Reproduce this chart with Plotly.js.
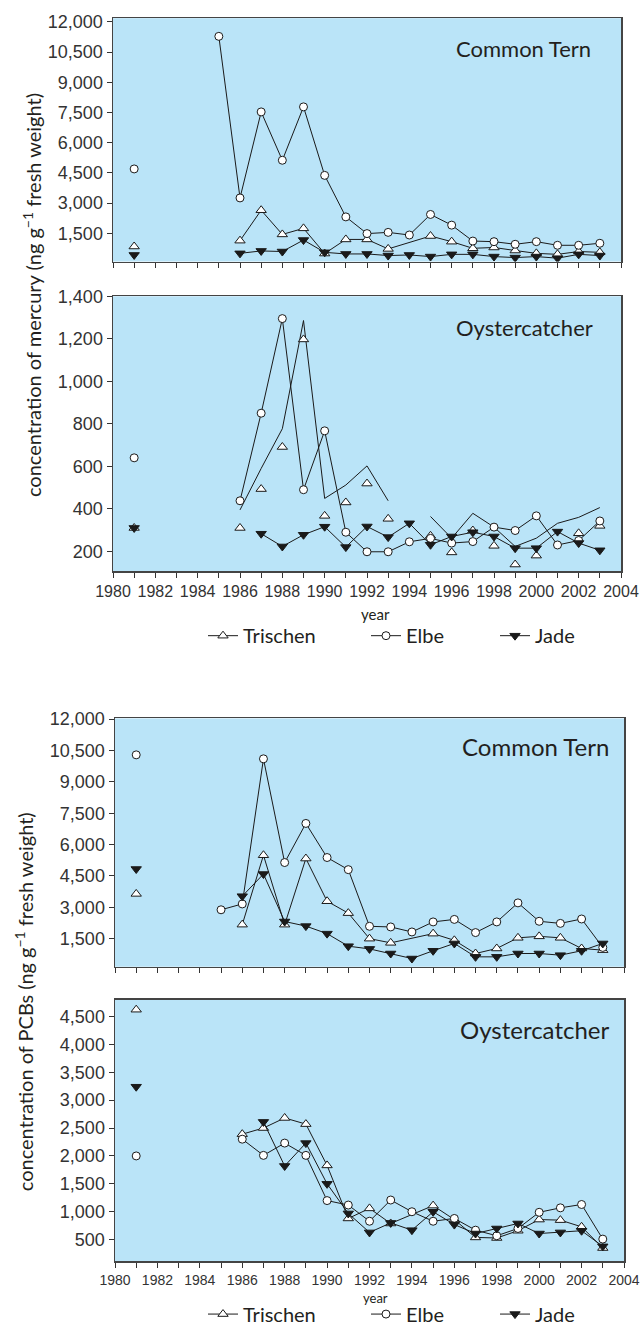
<!DOCTYPE html>
<html>
<head>
<meta charset="utf-8">
<script src="https://cdn.plot.ly/plotly-3.0.1.min.js"></script>
<style>html,body{margin:0;padding:0;background:#fff;}#chart{width:643px;height:1334px;}</style>
</head>
<body>
<div id="chart"></div>
<script>
// ---------- data ----------
const YEARS = [1981, 1985, 1986, 1987, 1988, 1989, 1990, 1991, 1992, 1993, 1994, 1995, 1996, 1997, 1998, 1999, 2000, 2001, 2002, 2003];

// mercury, Common Tern
const hgTernTrischen = [850, null, 1140, 2650, 1450, 1750, 500, 1200, 1200, 730, null, 1370, 1090, 760, 800, 650, 510, 460, 600, 560];
const hgTernElbe     = [4700, 11280, 3260, 7530, 5130, 7780, 4380, 2320, 1490, 1550, 1420, 2440, 1910, 1120, 1090, 960, 1090, 910, 910, 1010];
const hgTernJade     = [430, null, 510, 630, 600, 1170, 560, 480, 480, 400, 430, 350, 460, 460, 350, 300, 350, 270, 460, 400];

// mercury, Oystercatcher
const hgOysTrischen     = [310, null, 310, 493, 691, 1197, 367, 430, 519, 353, null, 273, 195, 298, 226, 138, 180, null, 285, 320];
const hgOysTrischenLine = [null, null, 395, 590, 777, 1286, 449, 512, 602, 438, null, 364, 262, 379, 314, 223, 262, 332, 360, 406];
const hgOysElbe         = [640, null, 438, 850, 1295, 490, 767, 290, 198, 198, 245, 261, 239, 246, 314, 298, 367, 230, 251, 343];
const hgOysJade         = [310, null, null, 283, 223, 278, 316, 220, 317, 267, 332, 231, 270, 290, 270, 215, 215, 293, 239, 205];

// PCBs, Common Tern
const pcbTernTrischen = [3640, null, 2170, 5490, 2170, 5330, 3290, 2720, 1500, 1300, null, 1740, 1420, 790, 1030, 1540, 1610, 1540, 1030, 950];
const pcbTernElbe     = [10290, 2880, 3160, 10100, 5140, 7010, 5380, 4800, 2090, 2060, 1820, 2300, 2420, 1790, 2300, 3210, 2330, 2230, 2440, 1080];
const pcbTernJade     = [4830, null, 3530, 4590, 2320, 2100, 1740, 1140, 1010, 790, 550, 920, 1270, 630, 630, 790, 790, 710, 920, 1270];

// PCBs, Oystercatcher
const pcbOysTrischen = [4620, null, 2390, 2500, 2680, 2570, 1830, 880, 1060, 790, null, 1110, 860, 540, 530, 660, 860, 850, 730, 350];
const pcbOysElbe     = [2000, null, 2300, 2010, 2230, 2010, 1200, 1120, 830, 1210, 1000, 830, 880, 670, 570, 700, 990, 1070, 1130, 510];
const pcbOysJade     = [3240, null, null, 2610, 1820, 2230, 1500, 970, 630, 800, 670, 1000, 770, 610, 700, 790, 610, 630, 660, 380];

const SERIES = ['Trischen', 'Elbe', 'Jade'];
const TICKS_TERN = [1500, 3000, 4500, 6000, 7500, 9000, 10500, 12000];
const TICKS_HG_OYS = [200, 400, 600, 800, 1000, 1200, 1400];
const TICKS_PCB_OYS = [500, 1000, 1500, 2000, 2500, 3000, 3500, 4000, 4500];

// ---------- styles ----------
const INK = '#1a1a1a';
const MARK = {
  Trischen: {symbol: 'triangle-up', size: 9, color: '#ffffff', line: {color: INK, width: 1}},
  Elbe:     {symbol: 'circle', size: 8, color: '#ffffff', line: {color: INK, width: 1}},
  Jade:     {symbol: 'triangle-down', size: 9, color: INK, line: {color: INK, width: 1}}
};
const LINE = {color: INK, width: 1};

// one legend box per entry so each can sit where the reference puts it
const TOP_LEGENDS = {Trischen: 'legend', Elbe: 'legend3', Jade: 'legend4'};
const BOT_LEGENDS = {Trischen: 'legend2', Elbe: 'legend5', Jade: 'legend6'};

const traces = [];
function addSeries(vals, name, xa, ya, legendId, opts) {
  opts = opts || {};
  if (vals[0] !== null) {
    traces.push({x: [YEARS[0]], y: [vals[0]], xaxis: xa, yaxis: ya, mode: 'markers',
      marker: MARK[name], showlegend: false, hoverinfo: 'skip'});
  }
  const xs = YEARS.slice(1), ys = vals.slice(1);
  traces.push({x: xs, y: ys, xaxis: xa, yaxis: ya, name: name,
    mode: opts.markersOnly ? 'markers' : 'lines+markers', connectgaps: true,
    line: LINE, marker: MARK[name],
    showlegend: !!legendId, legend: legendId || 'legend'});
}

// panel 1
addSeries(hgTernTrischen, 'Trischen', 'x', 'y', TOP_LEGENDS.Trischen);
addSeries(hgTernElbe, 'Elbe', 'x', 'y', TOP_LEGENDS.Elbe);
addSeries(hgTernJade, 'Jade', 'x', 'y', TOP_LEGENDS.Jade);
// panel 2
traces.push({x: YEARS, y: hgOysTrischenLine, xaxis: 'x2', yaxis: 'y2', mode: 'lines',
  connectgaps: false, line: LINE, showlegend: false, name: 'Trischen'});
addSeries(hgOysTrischen, 'Trischen', 'x2', 'y2', null, {markersOnly: true});
addSeries(hgOysElbe, 'Elbe', 'x2', 'y2', null);
addSeries(hgOysJade, 'Jade', 'x2', 'y2', null);
// panel 3
addSeries(pcbTernTrischen, 'Trischen', 'x3', 'y3', BOT_LEGENDS.Trischen);
addSeries(pcbTernElbe, 'Elbe', 'x3', 'y3', BOT_LEGENDS.Elbe);
addSeries(pcbTernJade, 'Jade', 'x3', 'y3', BOT_LEGENDS.Jade);
// panel 4
addSeries(pcbOysTrischen, 'Trischen', 'x4', 'y4', null);
addSeries(pcbOysElbe, 'Elbe', 'x4', 'y4', null);
addSeries(pcbOysJade, 'Jade', 'x4', 'y4', null);

// ---------- layout ----------
const W = 643, H = 1334;
const TICKFONT = 'Liberation Sans, Arial, sans-serif';
const TEXTFONT = 'Lato, Open Sans, sans-serif';

function xAxis(l, r, anchor, labels, fsize) {
  return {domain: [l / W, r / W], anchor: anchor, range: [1980, 2004],
    tickmode: 'linear', tick0: 1980, dtick: 1, ticklabelstep: 2,
    ticks: 'outside', ticklen: 5, tickwidth: 1, tickcolor: '#333',
    showticklabels: labels, tickfont: {family: TICKFONT, size: fsize || 17, color: '#333'},
    showline: true, linecolor: '#444', linewidth: 1.5, mirror: true,
    showgrid: false, zeroline: false, fixedrange: true};
}
function yAxis(top, bot, anchor, range, vals) {
  return {domain: [1 - bot / H, 1 - top / H], anchor: anchor, range: range,
    tickmode: 'array', tickvals: vals, tickformat: ',d',
    ticks: 'outside', ticklen: 5, tickwidth: 1, tickcolor: '#333',
    tickfont: {family: TICKFONT, size: 18, color: '#333'},
    showline: true, linecolor: '#444', linewidth: 1.5, mirror: true,
    showgrid: false, zeroline: false, fixedrange: true};
}

const legendBase = {orientation: 'h', xanchor: 'left', yanchor: 'middle',
  font: {family: TEXTFONT, size: 20, color: '#231f20'}, bgcolor: 'rgba(0,0,0,0)',
  traceorder: 'normal', itemclick: false, itemdoubleclick: false, itemwidth: 30};
function legendAt(textStartPx, yPx) {
  return Object.assign({}, legendBase, {x: (textStartPx - 42) / W, y: 1 - yPx / H});
}

const layout = {
  width: W, height: H, margin: {l: 0, r: 0, t: 0, b: 0},
  paper_bgcolor: '#ffffff', plot_bgcolor: '#bae4f8',
  showlegend: true,
  xaxis: xAxis(113, 621, 'y', false),
  yaxis: yAxis(18.3, 263.3, 'x', [104, 12182], TICKS_TERN),
  xaxis2: xAxis(113, 621, 'y2', true, 16),
  yaxis2: yAxis(298.3, 575, 'x2', [107, 1400], TICKS_HG_OYS),
  xaxis3: xAxis(115, 624, 'y3', false),
  yaxis3: yAxis(723.3, 973.3, 'x3', [157, 12032], TICKS_TERN),
  xaxis4: xAxis(115, 624, 'y4', true, 14),
  yaxis4: yAxis(1006.7, 1270, 'x4', [110, 4795], TICKS_PCB_OYS),
  legend:  legendAt(245, 640),
  legend3: legendAt(408, 640),
  legend4: legendAt(537, 640),
  legend2: legendAt(245, 1323),
  legend5: legendAt(408, 1323),
  legend6: legendAt(537, 1323),
  annotations: [
    {text: 'Common Tern', xref: 'x domain', yref: 'y domain', x: 0.945, y: 0.875,
      xanchor: 'right', yanchor: 'middle', showarrow: false, font: {family: TEXTFONT, size: 22, color: '#231f20'}},
    {text: 'Oystercatcher', xref: 'x2 domain', yref: 'y2 domain', x: 0.949, y: 0.885,
      xanchor: 'right', yanchor: 'middle', showarrow: false, font: {family: TEXTFONT, size: 22, color: '#231f20'}},
    {text: 'Common Tern', xref: 'x3 domain', yref: 'y3 domain', x: 0.974, y: 0.886,
      xanchor: 'right', yanchor: 'middle', showarrow: false, font: {family: TEXTFONT, size: 24, color: '#231f20'}},
    {text: 'Oystercatcher', xref: 'x4 domain', yref: 'y4 domain', x: 0.974, y: 0.886,
      xanchor: 'right', yanchor: 'middle', showarrow: false, font: {family: TEXTFONT, size: 24, color: '#231f20'}},
    {text: 'concentration of mercury (ng g<sup>−1</sup> fresh weight)', textangle: -90,
      xref: 'paper', yref: 'paper', x: 32 / W, y: 1 - 297 / H, xanchor: 'center', yanchor: 'middle',
      showarrow: false, font: {family: TEXTFONT, size: 20, color: '#231f20'}},
    {text: 'concentration of PCBs (ng g<sup>−1</sup> fresh weight)', textangle: -90,
      xref: 'paper', yref: 'paper', x: 24 / W, y: 1 - 1009 / H, xanchor: 'center', yanchor: 'middle',
      showarrow: false, font: {family: TEXTFONT, size: 20, color: '#231f20'}},
    {text: 'year', xref: 'paper', yref: 'paper', x: 375 / W, y: 1 - 618 / H,
      xanchor: 'center', yanchor: 'middle', showarrow: false, font: {family: TEXTFONT, size: 15, color: '#231f20'}},
    {text: 'year', xref: 'paper', yref: 'paper', x: 375 / W, y: 1 - 1307 / H,
      xanchor: 'center', yanchor: 'middle', showarrow: false, font: {family: TEXTFONT, size: 13, color: '#231f20'}}
  ]
};

Plotly.newPlot('chart', traces, layout, {displayModeBar: false, staticPlot: true});
</script>
</body>
</html>
